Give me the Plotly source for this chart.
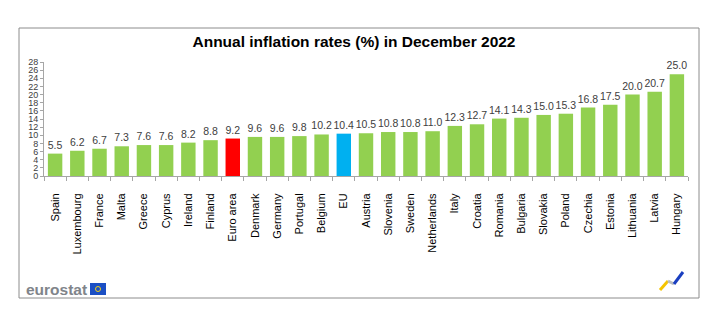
import plotly.graph_objects as go

# Annual HICP inflation, December 2022 (%)
countries = ["Spain", "Luxembourg", "France", "Malta", "Greece", "Cyprus", "Ireland",
             "Finland", "Euro area", "Denmark", "Germany", "Portugal", "Belgium", "EU",
             "Austria", "Slovenia", "Sweden", "Netherlands", "Italy", "Croatia", "Romania",
             "Bulgaria", "Slovakia", "Poland", "Czechia", "Estonia", "Lithuania", "Latvia",
             "Hungary"]
rates = [5.5, 6.2, 6.7, 7.3, 7.6, 7.6, 8.2, 8.8, 9.2, 9.6, 9.6, 9.8, 10.2, 10.4,
         10.5, 10.8, 10.8, 11.0, 12.3, 12.7, 14.1, 14.3, 15.0, 15.3, 16.8, 17.5,
         20.0, 20.7, 25.0]
y_ticks = list(range(0, 29, 2))

GREEN, RED, BLUE = "#92D050", "#FF0000", "#00B0F0"
colors = [RED if c == "Euro area" else BLUE if c == "EU" else GREEN for c in countries]

W, H = 722, 327
L, R, T, B = 44, 34, 62, 151
PW, PH = W - L - R, H - T - B


def px(x):
    return (x - L) / PW


def py(y):
    return (H - B - y) / PH


fig = go.Figure(go.Bar(
    x=countries, y=rates, marker_color=colors, marker_line_width=0,
    text=[f"{v:.1f}" for v in rates], textposition="outside", constraintext="none",
    textfont=dict(family="Liberation Sans", size=10.5, color="#404040"),
    cliponaxis=False, hoverinfo="x+y",
))

shapes = [
    # outer frame
    dict(type="rect", xref="paper", yref="paper", x0=px(19), x1=px(699), y0=py(298), y1=py(28),
         line=dict(color="#8c8c8c", width=1)),
    # EU flag next to the wordmark
    dict(type="rect", xref="paper", yref="paper", x0=px(90), x1=px(106), y0=py(295), y1=py(283),
         fillcolor="#1b4fc4", line_width=0),
    dict(type="circle", xref="paper", yref="paper", x0=px(95.5), x1=px(100.5), y0=py(291.5), y1=py(286.5),
         line=dict(color="#f2d21b", width=1)),
    # corner logo strokes
    dict(type="line", xref="paper", yref="paper", x0=px(660), y0=py(290), x1=px(668), y1=py(281),
         line=dict(color="#f5c400", width=3)),
    dict(type="line", xref="paper", yref="paper", x0=px(668), y0=py(281), x1=px(674), y1=py(284),
         line=dict(color="#b9bcc0", width=3)),
    dict(type="line", xref="paper", yref="paper", x0=px(674), y0=py(284), x1=px(683), y1=py(272),
         line=dict(color="#1a3fc0", width=3)),
]

annotations = [
    dict(text="eurostat", xref="paper", yref="paper", x=px(24), y=py(289),
         xanchor="left", yanchor="middle", showarrow=False,
         font=dict(family="Liberation Sans", size=15.5, color="#80848a", weight="bold")),
]

fig.update_layout(
    width=W, height=H,
    margin=dict(l=L, r=R, t=T, b=B),
    paper_bgcolor="white", plot_bgcolor="white",
    bargap=0.35,
    showlegend=False,
    title=dict(text="<b>Annual inflation rates (%) in December 2022</b>",
               x=354 / W, xanchor="center", y=1 - 42 / H, yanchor="middle",
               font=dict(family="Liberation Sans", size=15.5, color="black")),
    xaxis=dict(
        tickangle=-90, tickfont=dict(family="Liberation Sans", size=11, color="black"),
        ticklabelstandoff=12,
        showline=True, linecolor="#a6a6a6", linewidth=1,
        ticks="outside", tickson="boundaries", ticklen=4, tickcolor="#a6a6a6",
        showgrid=False, range=[-0.5, len(countries) - 0.5],
    ),
    yaxis=dict(
        range=[0, 28], tickvals=y_ticks,
        tickfont=dict(family="Liberation Sans", size=9, color="#404040"),
        showline=True, linecolor="#a6a6a6", linewidth=1,
        ticks="outside", ticklen=3, tickcolor="#a6a6a6",
        showgrid=False, zeroline=False,
    ),
    shapes=shapes,
    annotations=annotations,
)

fig.write_html("out.html")
